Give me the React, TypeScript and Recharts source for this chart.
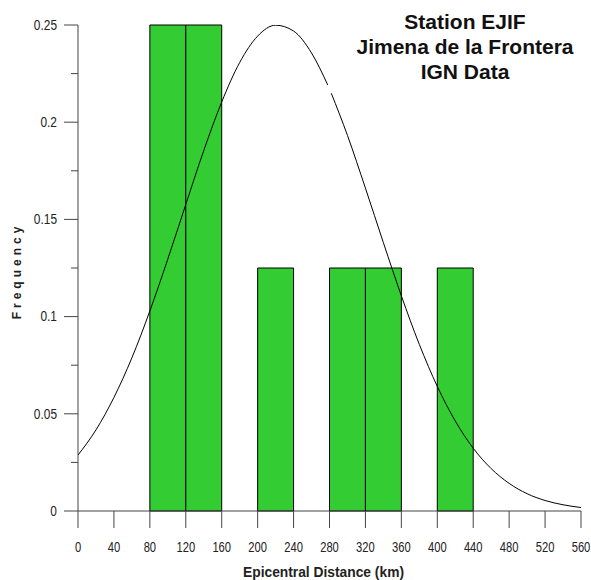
import { ComposedChart, Line, XAxis, YAxis, ReferenceArea, Label } from 'recharts';

// histogram bins (km) and their frequency
const binStarts = [80, 120, 200, 280, 320, 400];
const binEnds = [120, 160, 240, 320, 360, 440];
const binFreq = [0.25, 0.25, 0.125, 0.125, 0.125, 0.125];

// fitted curve (null = the small break near 280 km)
const curveX = [0, 20, 40, 60, 80, 100, 120, 140, 160, 180, 200, 220, 240, 260, 278, 280, 282, 300, 320, 340, 360, 380, 400, 420, 440, 460, 480, 500, 520, 540, 560];
const curveY = [0.0288, 0.0417, 0.0584, 0.0788, 0.1029, 0.1296, 0.1577, 0.1854, 0.2104, 0.2307, 0.2443, 0.2499, 0.2469, 0.2356, 0.2192, null, 0.2149, 0.1932, 0.1661, 0.138, 0.1107, 0.0857, 0.0641, 0.0463, 0.0323, 0.0218, 0.0142, 0.0089, 0.0054, 0.0032, 0.0018];

const xTicks = [0, 40, 80, 120, 160, 200, 240, 280, 320, 360, 400, 440, 480, 520, 560];
const yMajorTicks = [0, 0.05, 0.1, 0.15, 0.2, 0.25];
const yMinorTicks = [0.025, 0.075, 0.125, 0.175, 0.225];
const yTickLabels = ['0', '0.05', '0.1', '0.15', '0.2', '0.25'];

const titleLines = ['Station EJIF', 'Jimena de la Frontera', 'IGN Data'];

const axisColor = '#444';
const sans = '"Liberation Sans", Arial, sans-serif';

const data = curveX.map((x, i) => ({ x, y: curveY[i] }));

// the original uses a condensed face, so squeeze the glyphs a bit
const XTick = ({ x, y, payload }: any) => (
  <text transform={`translate(${x},${y}) scale(0.8,1)`} textAnchor="middle" dy="0.71em"
    fontSize={14} fontFamily={sans} fill="#222">{payload.value}</text>
);

const YTick = ({ x, y, payload }: any) => {
  const i = yMajorTicks.indexOf(payload.value);
  const axisX = x + 21;
  if (i < 0) return <line x1={axisX - 7} x2={axisX} y1={y} y2={y} stroke={axisColor} />;
  return (
    <g>
      <line x1={axisX - 14} x2={axisX} y1={y} y2={y} stroke={axisColor} />
      <text transform={`translate(${x},${y}) scale(0.85,1)`} textAnchor="end" dominantBaseline="central"
        fontSize={14} fontFamily={sans} fill="#222">{yTickLabels[i]}</text>
    </g>
  );
};

const YLabel = ({ viewBox }: any) => {
  const cx = viewBox.x + 17, cy = viewBox.y + viewBox.height / 2 + 3;
  return (
    <text x={cx} y={cy} transform={`rotate(-90 ${cx} ${cy})`} textAnchor="middle" dominantBaseline="central"
      fontSize={12} fontWeight="bold" letterSpacing={4} fontFamily={sans} fill="#222">Frequency</text>
  );
};

const XLabel = ({ viewBox }: any) => {
  const cx = viewBox.x + viewBox.width / 2 - 6, cy = viewBox.y + 61;
  return (
    <text transform={`translate(${cx},${cy}) scale(0.92,1)`} textAnchor="middle" dominantBaseline="central"
      fontSize={15} fontWeight="bold" fontFamily={sans} fill="#222">Epicentral Distance (km)</text>
  );
};

export default function App() {
  return (
    <div style={{ position: 'relative', width: 591, height: 580, background: '#fff' }}>
      <style>{`body{margin:0}`}</style>
      <ComposedChart width={591} height={580} data={data} margin={{ top: 25, right: 10, bottom: 0, left: 0 }}>
        {binStarts.map((s, i) => (
          <ReferenceArea key={i} x1={s} x2={binEnds[i]} y1={0} y2={binFreq[i]}
            fill="#33cc33" fillOpacity={1} stroke="#000" strokeWidth={1} ifOverflow="visible" />
        ))}
        <XAxis type="number" dataKey="x" domain={[0, 560]} ticks={xTicks} interval={0} allowDataOverflow
          height={69} tickSize={17} tickMargin={14} stroke={axisColor} tick={<XTick />}>
          <Label content={XLabel} />
        </XAxis>
        <YAxis type="number" domain={[0, 0.25]} allowDataOverflow width={78}
          ticks={[...yMajorTicks, ...yMinorTicks]} interval={0} tickSize={14} tickMargin={7}
          tickLine={false} tick={<YTick />} stroke={axisColor}>
          <Label content={YLabel} />
        </YAxis>
        <Line type="monotone" dataKey="y" stroke="#000" strokeWidth={1} dot={false} connectNulls={false} isAnimationActive={false} />
      </ComposedChart>
      <div style={{ position: 'absolute', left: 315, top: 9, width: 300, textAlign: 'center', fontFamily: sans,
        fontWeight: 'bold', fontSize: 21, lineHeight: '25px', color: '#111', whiteSpace: 'nowrap' }}>
        {titleLines.map((t) => <div key={t}>{t}</div>)}
      </div>
    </div>
  );
}
